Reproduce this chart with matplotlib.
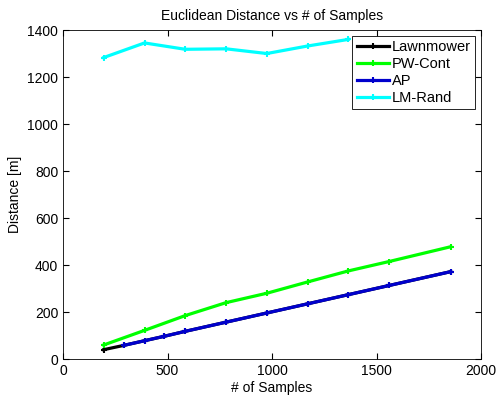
import matplotlib.pyplot as plt

plt.rcParams['font.family'] = ['Liberation Sans', 'DejaVu Sans']

# samples vs distance [m]
lm_x = [195, 290, 390, 485, 585, 780, 975, 1170, 1365, 1560, 1855]
lm_y = [40, 58, 78, 97, 118, 157, 196, 235, 274, 313, 372]

pw_x = [195, 390, 585, 780, 975, 1170, 1365, 1560, 1855]
pw_y = [60, 122, 185, 240, 280, 328, 375, 415, 478]

ap_x = [290, 390, 485, 585, 780, 975, 1170, 1365, 1560, 1855]
ap_y = [58, 78, 97, 118, 157, 196, 235, 274, 313, 372]

rand_x = [195, 390, 585, 780, 975, 1170, 1365]
rand_y = [1283, 1345, 1318, 1320, 1300, 1332, 1360]

fig = plt.figure(figsize=(4.98, 3.95), dpi=100)
ax = fig.add_axes([0.1265, 0.091, 0.8395, 0.833])

kw = dict(linewidth=2.3, marker='+', markersize=5, markeredgewidth=1.5)
ax.plot(lm_x, lm_y, color='black', label='Lawnmower', **kw)
ax.plot(pw_x, pw_y, color='#00ff00', label='PW-Cont', **kw)
ax.plot(ap_x, ap_y, color='#0000cc', label='AP', **kw)
ax.plot(rand_x, rand_y, color='#00ffff', label='LM-Rand', **kw)

ax.set_xlim(0, 2000)
ax.set_ylim(0, 1400)
ax.set_xticks([0, 500, 1000, 1500, 2000])
ax.set_yticks(range(0, 1401, 200))
ax.tick_params(direction='in', top=True, right=True, labelsize=10, length=4)
for s in ax.spines.values():
    s.set_linewidth(0.6)
ax.set_xlabel('# of Samples', fontsize=10, labelpad=2)
ax.set_ylabel('Distance [m]', fontsize=10, labelpad=4)
ax.set_title('Euclidean Distance vs # of Samples', fontsize=10, pad=7)

leg = ax.legend(loc='upper right', fontsize=10.5, fancybox=False, framealpha=1,
                edgecolor='black', handlelength=2.2, handletextpad=0.2,
                borderaxespad=0.4, labelspacing=0.2, borderpad=0.3)
leg.get_frame().set_linewidth(0.6)

fig.savefig('out.png', dpi=100)
